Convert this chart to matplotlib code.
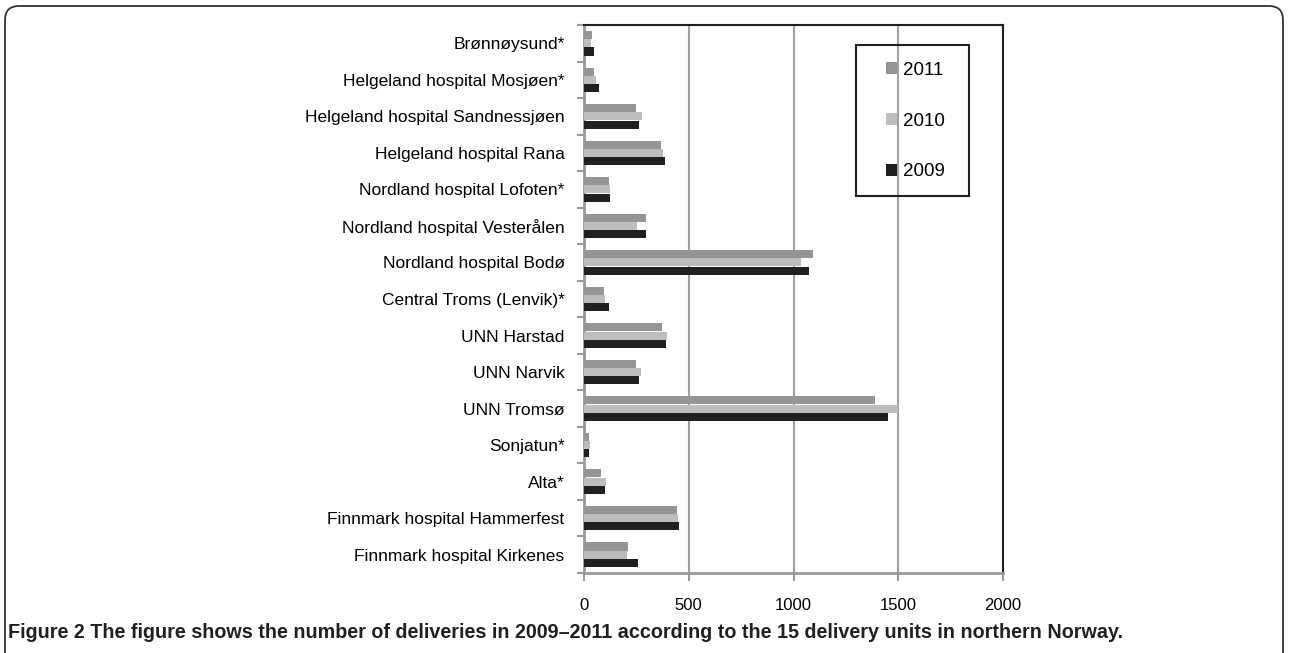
import matplotlib
matplotlib.use("Agg")
import matplotlib.pyplot as plt
import matplotlib.patches as mpatches
import matplotlib.transforms as mtransforms
import numpy as np

plt.rcParams['font.family'] = ['Liberation Sans', 'DejaVu Sans']

units = ["Brønnøysund*", "Helgeland hospital Mosjøen*", "Helgeland hospital Sandnessjøen",
         "Helgeland hospital Rana", "Nordland hospital Lofoten*", "Nordland hospital Vesterålen",
         "Nordland hospital Bodø", "Central Troms (Lenvik)*", "UNN Harstad", "UNN Narvik",
         "UNN Tromsø", "Sonjatun*", "Alta*", "Finnmark hospital Hammerfest",
         "Finnmark hospital Kirkenes"]
v2011 = [38, 48, 248, 369, 121, 298, 1095, 94, 373, 250, 1390, 25, 83, 444, 212]
v2010 = [33, 57, 279, 376, 124, 252, 1038, 102, 398, 274, 1497, 27, 107, 447, 207]
v2009 = [49, 70, 264, 388, 126, 295, 1076, 121, 393, 263, 1449, 25, 102, 455, 258]
xticks = [0, 500, 1000, 1500, 2000]

W, H = 1289, 653
fig = plt.figure(figsize=(W / 100, H / 100), dpi=100)
ax = fig.add_axes([584 / W, 1 - 573 / H, (1003 - 584) / W, (573 - 25) / H])

y = np.arange(len(units))
bh = 0.22
ax.barh(y - 0.225, v2011, height=bh, color='#959595', label='2011', zorder=3)
ax.barh(y, v2010, height=bh, color='#bdbdbf', label='2010', zorder=3)
ax.barh(y + 0.225, v2009, height=bh, color='#231f20', label='2009', zorder=3)

ax.set_xlim(0, 2000)
ax.set_ylim(len(units) - 0.5, -0.5)
ax.set_xticks(xticks)
ax.set_xticklabels([str(t) for t in xticks], fontsize=12)
ax.xaxis.grid(True, color='#a0a0a0', lw=1.5)
ax.set_axisbelow(True)

ax.set_yticks(y)
ax.set_yticklabels(units, fontsize=12.5)
ax.set_yticks(np.arange(-0.5, len(units), 1), minor=True)
ax.tick_params(axis='y', which='major', length=0, pad=14)
ax.tick_params(axis='y', which='minor', length=5, width=1.5, color='#999999')
ax.tick_params(axis='x', length=6, width=1.5, color='#999999', pad=12)

for s in ['left', 'bottom']:
    ax.spines[s].set_color('#999999')
    ax.spines[s].set_linewidth(2)
for s in ['top', 'right']:
    ax.spines[s].set_color('#231f20')
    ax.spines[s].set_linewidth(1.5)

# legend
ax.legend(loc='center left', bbox_to_anchor=(886 / W, 1 - 121 / H), bbox_transform=fig.transFigure,
          frameon=False, fontsize=13.5, handlelength=0.6, handleheight=0.6, handletextpad=0.3,
          labelspacing=1.8, borderpad=0, borderaxespad=0)
fig.add_artist(mpatches.Rectangle((856 / W, 1 - 196 / H), 113 / W, 151 / H, transform=fig.transFigure,
                                  fill=False, ec='#231f20', lw=1.5))

# outer rounded frame
fig.add_artist(mpatches.FancyBboxPatch((5, -30), W - 11, H - 5 + 30 - 1,
                                       boxstyle='round,pad=0,rounding_size=14',
                                       transform=mtransforms.IdentityTransform(),
                                       fill=False, ec='#333333', lw=1.3))

fig.text(8 / W, 1 - 632 / H,
         "Figure 2 The figure shows the number of deliveries in 2009–2011 according to the 15 delivery units in northern Norway.",
         fontsize=14.2, fontweight='bold', ha='left', va='center', color='#231f20')

fig.savefig('out.png', dpi=100)
